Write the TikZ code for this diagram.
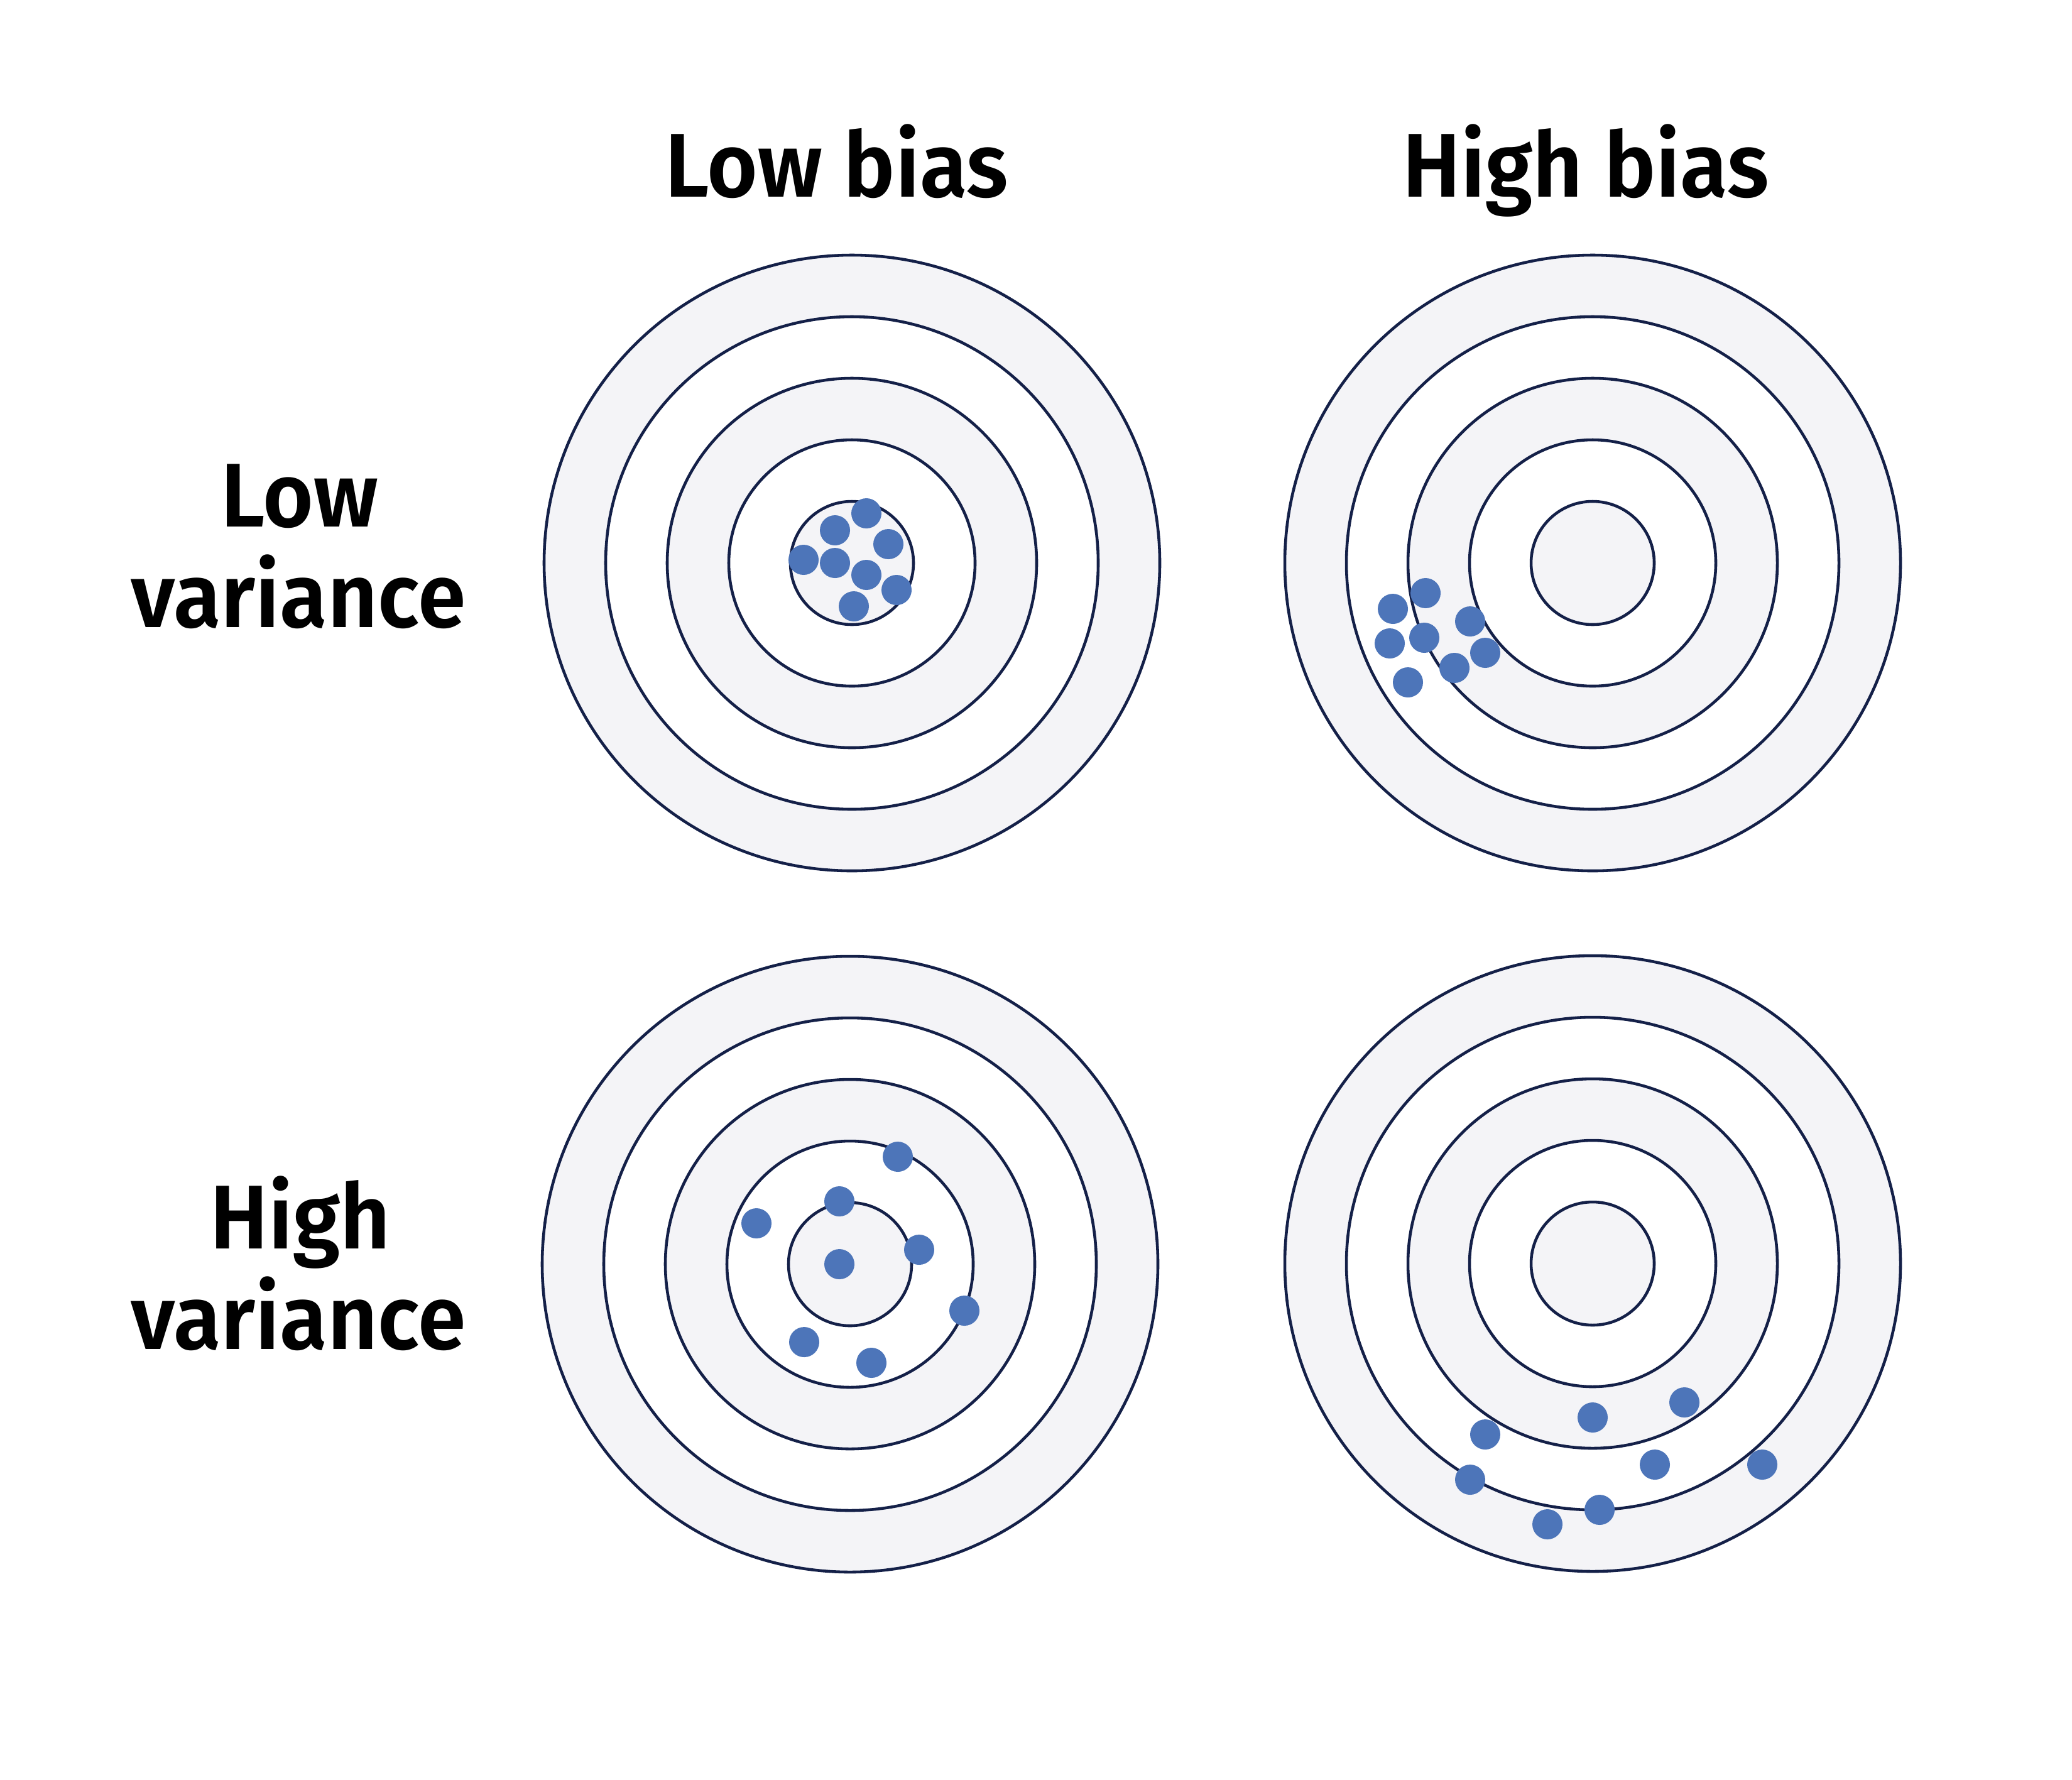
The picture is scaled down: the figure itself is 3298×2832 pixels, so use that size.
\documentclass[tikz,border=0pt]{standalone}
\usepackage{fontspec}
\setmainfont{Fira Sans}[BoldFont={Fira Sans SemiBold},BoldFeatures={FakeStretch=0.96}]
\definecolor{ringline}{RGB}{20,32,72}
\definecolor{ringfill}{RGB}{244,244,247}
\definecolor{dotblue}{RGB}{77,117,185}
\tikzset{
  label/.style={font=\fontsize{41}{48}\selectfont\bfseries, anchor=base, inner sep=0pt, text=black},
  ringstroke/.style={draw=ringline, line width=1.3pt},
  shot/.style={fill=dotblue},
}
\newcommand{\drawtarget}[2]{%
  \fill[ringfill] (#1,#2) circle (490);
  \fill[white] (#1,#2) circle (392);
  \fill[ringfill] (#1,#2) circle (294);
  \fill[white] (#1,#2) circle (196);
  \fill[ringfill] (#1,#2) circle (98);
  \foreach \r in {98,196,294,392,490} {\draw[ringstroke] (#1,#2) circle (\r);}
}
\newcommand{\shots}[1]{\foreach \p in {#1} {\fill[shot] \p circle (24);}}
\begin{document}
\begin{tikzpicture}[x=0.01cm,y=-0.01cm]
\useasboundingbox (0,0) rectangle (3298,2832);
\fill[white] (0,0) rectangle (3298,2832);

% column and row labels
\node[label] (lowbias) at (1332,313) {Low bias};
\node[label] (highbias) at (2524,313) {High bias};
\node[label] (lowvar1) at (477,838) {Low};
\node[label] (lowvar2) at (475,998) {variance};
\node[label] (highvar1) at (478,1987) {High};
\node[label] (highvar2) at (475,2147) {variance};

% targets
\drawtarget{1356}{896}
\drawtarget{2535}{896}
\drawtarget{1353}{2012}
\drawtarget{2535}{2011}

% low bias, low variance
\shots{(1379,817),(1329,844),(1414,866),(1279,891),(1329,896),(1379,915),(1427,939),(1359,965)}
% high bias, low variance
\shots{(2269,944),(2217,969),(2340,989),(2212,1024),(2267,1015),(2364,1039),(2315,1063),(2241,1086)}
% low bias, high variance
\shots{(1429,1841),(1336,1912),(1204,1947),(1336,2012),(1463,1989),(1535,2086),(1280,2136),(1387,2169)}
% high bias, high variance
\shots{(2681,2232),(2535,2256),(2364,2283),(2634,2331),(2805,2331),(2340,2355),(2546,2403),(2463,2426)}
\end{tikzpicture}
\end{document}
